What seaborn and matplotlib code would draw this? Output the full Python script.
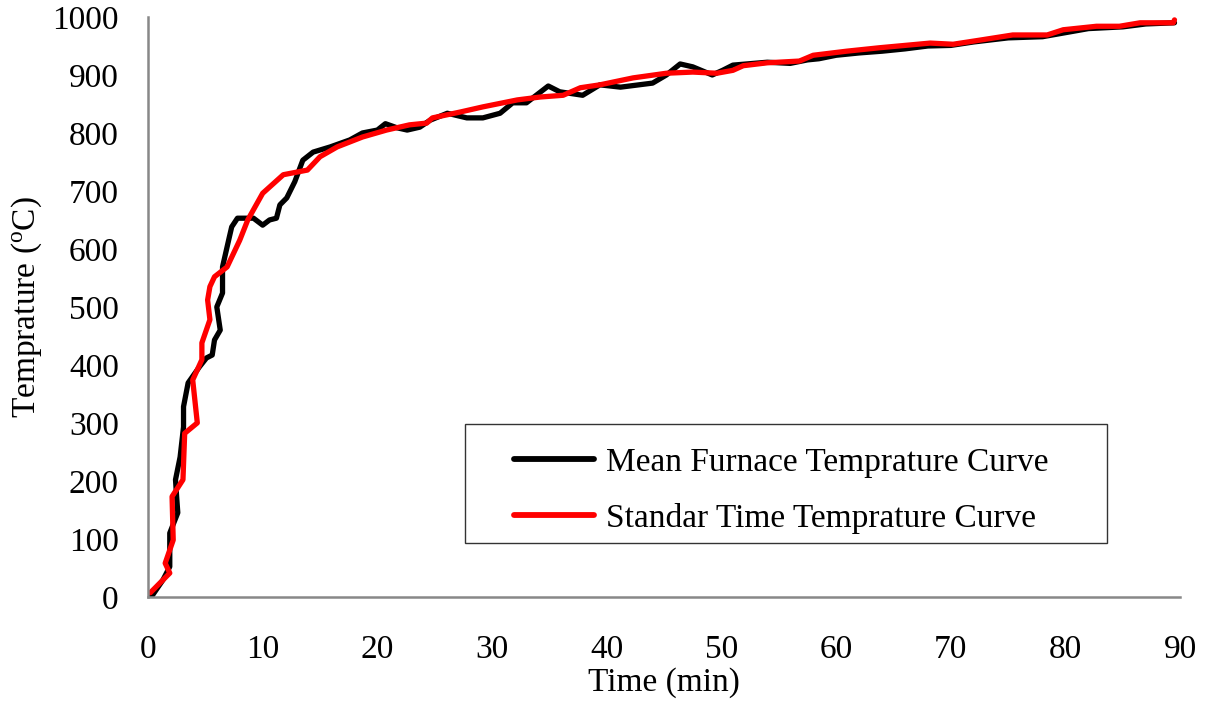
import matplotlib
matplotlib.use("Agg")
import matplotlib.pyplot as plt
from matplotlib.patches import Rectangle
import seaborn as sns
import pandas as pd

mean_time = [0.0, 0.4, 1.3, 1.9, 1.9, 2.6, 2.5, 2.4, 2.8, 3.1, 3.1, 3.5, 4.5, 5.1, 5.6,
             5.8, 6.3, 6.0, 6.5, 6.5, 7.1, 7.3, 7.8, 9.2, 10.0, 10.6, 11.2, 11.5, 12.1,
             12.8, 13.5, 14.4, 15.9, 17.6, 18.7, 20.0, 20.7, 21.7, 22.6, 23.7, 24.6,
             26.1, 27.8, 29.2, 30.7, 31.8, 33.0, 34.9, 35.9, 37.9, 39.4, 41.2, 44.0,
             45.2, 46.4, 47.5, 49.2, 50.1, 51.0, 54.0, 56.0, 57.5, 58.5, 60.0, 62.0,
             64.0, 66.0, 68.0, 70.0, 72.0, 75.0, 78.0, 80.0, 82.0, 85.0, 87.0, 89.5]
mean_temp = [5, 3, 29, 52, 110, 145, 172, 202, 241, 293, 328, 369, 397, 412, 417,
             443, 460, 500, 524, 569, 621, 638, 653, 653, 641, 650, 653, 676, 688,
             716, 753, 767, 776, 788, 800, 805, 816, 809, 805, 810, 822,
             834, 826, 826, 834, 852, 852, 881, 871, 865, 883, 879, 886,
             900, 919, 914, 900, 908, 917, 922, 920, 926, 928, 934, 938,
             941, 945, 950, 951, 957, 964, 966, 973, 980, 983, 988, 990]

std_time = [0.2, 1.9, 1.5, 2.2, 2.1, 3.05, 3.2, 4.3, 3.9, 4.7, 4.7, 5.4, 5.2, 5.4, 5.8,
            6.9, 8.0, 8.7, 10.0, 11.8, 13.9, 15.0, 16.5, 18.7, 20.8, 22.8, 24.3, 24.8,
            27.2, 29.2, 32.2, 34.2, 36.2, 37.7, 39.4, 42.3, 45.2, 47.5, 49.6, 51.0,
            51.9, 54.0, 56.8, 58.0, 60.9, 63.8, 68.2, 70.2, 72.5, 75.4, 78.4, 79.8,
            82.7, 84.7, 86.5, 89.4, 89.5]
std_temp = [7, 41, 58, 98, 173, 202, 282, 300, 374, 409, 438, 478, 512, 535, 552,
            569, 615, 650, 696, 728, 736, 759, 776, 793, 805, 814, 817, 826,
            836, 845, 857, 862, 865, 878, 883, 895, 903, 905, 903, 908,
            916, 921, 924, 934, 941, 947, 955, 953, 960, 969, 969, 978,
            984, 984, 990, 990, 995]

series_names = ["Mean Furnace Temprature Curve", "Standar Time Temprature Curve"]
x_ticks = list(range(0, 91, 10))
y_ticks = list(range(0, 1001, 100))

df = pd.concat([
    pd.DataFrame({"Time": mean_time, "Temp": mean_temp, "Series": series_names[0]}),
    pd.DataFrame({"Time": std_time, "Temp": std_temp, "Series": series_names[1]}),
], ignore_index=True)

sns.set_style("white")
plt.rcParams["font.family"] = ["Liberation Serif", "DejaVu Serif"]
plt.rcParams["mathtext.fontset"] = "custom"
plt.rcParams["mathtext.rm"] = "Liberation Serif"
plt.rcParams["text.color"] = "black"
plt.rcParams["axes.labelcolor"] = "black"

fig = plt.figure(figsize=(12.08, 7.08), dpi=100)
ax = fig.add_axes([0.1225, 0.157, 0.8545, 0.819])

sns.lineplot(data=df, x="Time", y="Temp", hue="Series", sort=False, estimator=None,
             palette={series_names[0]: "#000000", series_names[1]: "#ff0000"},
             linewidth=3.8, ax=ax)
for ln in ax.get_lines():
    ln.set_solid_joinstyle("round")
    ln.set_solid_capstyle("round")

ax.set_xlim(0, 90)
ax.set_ylim(0, 1000)
ax.set_xticks(x_ticks)
ax.set_yticks(y_ticks)
ax.tick_params(axis="both", labelsize=24, colors="#888888", length=8, width=1.8,
               direction="out", labelcolor="black")
ax.tick_params(axis="x", pad=19)
ax.tick_params(axis="y", pad=13)
for s in ["top", "right"]:
    ax.spines[s].set_visible(False)
for s in ["left", "bottom"]:
    ax.spines[s].set_color("#888888")
    ax.spines[s].set_linewidth(1.8)

ax.set_xlabel("Time (min)", fontsize=24, labelpad=2)
ax.set_ylabel(r"Temprature ($\mathregular{^{o}}$C)", fontsize=24, labelpad=6)

leg = ax.legend(loc="center left", bbox_to_anchor=(0.355, 0.183),
                fontsize=24, frameon=False, borderpad=0, borderaxespad=0,
                labelspacing=0.75, handlelength=2.4, handletextpad=0.35)
for line in leg.get_lines():
    line.set_linewidth(4.2)
    line.set_solid_capstyle("round")
leg.set_title(None)

ax.add_patch(Rectangle((0.307, 0.093), 0.622, 0.205, transform=ax.transAxes,
                       fill=False, edgecolor="#333333", linewidth=1.0, zorder=5))

fig.savefig("out.png", dpi=100)
